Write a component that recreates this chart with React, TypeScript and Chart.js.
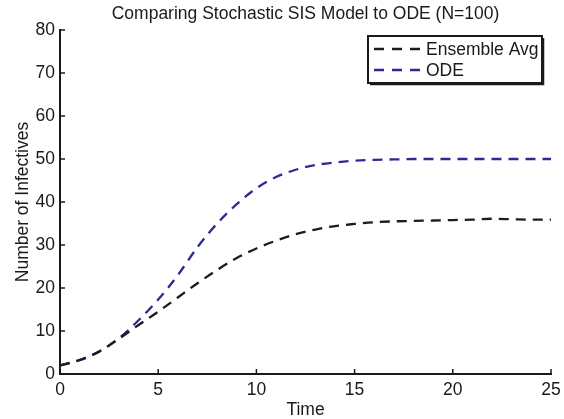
import React, { useEffect, useRef } from "react";
import { Chart, registerables } from "chart.js";

Chart.register(...registerables);

const title = "Comparing Stochastic SIS Model to ODE (N=100)";
const xLabel = "Time";
const yLabel = "Number of Infectives";
const seriesNames = ["Ensemble Avg", "ODE"];
const seriesColors = ["#1c1c1c", "#2b2b96"];

const times = [0, 1, 2, 3, 4, 5, 6, 7, 8, 9, 10, 11, 12, 13, 14, 15, 16, 17, 18, 19, 20, 21, 22, 23, 24, 25];
const ensembleAvg = [2, 3.2, 5.2, 8.2, 11.4, 14.5, 17.8, 21.1, 24.2, 27, 29.2, 31, 32.5, 33.6, 34.4, 34.9, 35.3, 35.5, 35.6, 35.7, 35.8, 35.9, 36.1, 36, 35.9, 35.9];
const odeValues = [2, 3.3, 5.3, 8.3, 12.5, 17.3, 23, 29.5, 35, 39.5, 43.2, 45.8, 47.5, 48.6, 49.2, 49.6, 49.8, 49.9, 50, 50, 50, 50, 50, 50, 50, 50];

const xTicks = [0, 5, 10, 15, 20, 25];
const yTicks = [0, 10, 20, 30, 40, 50, 60, 70, 80];

const FONT = "'Liberation Sans', Arial, Helvetica, sans-serif";
const FS = 17.5;

const decorPlugin = {
  id: "decor",
  afterDraw(chart: any) {
    const ctx = chart.ctx;
    const { left, right, bottom } = chart.chartArea;
    const xs = chart.scales.x;
    const ys = chart.scales.y;
    ctx.save();
    // inward ticks
    ctx.strokeStyle = "#1a1a1a";
    ctx.lineWidth = 1.5;
    ctx.beginPath();
    xTicks.forEach((t) => {
      const px = xs.getPixelForValue(t);
      ctx.moveTo(px, bottom);
      ctx.lineTo(px, bottom - 5);
    });
    yTicks.forEach((t) => {
      const py = ys.getPixelForValue(t);
      ctx.moveTo(left, py);
      ctx.lineTo(left + 5, py);
    });
    ctx.stroke();

    // title
    ctx.fillStyle = "#1a1a1a";
    ctx.font = `${FS}px ${FONT}`;
    ctx.textAlign = "center";
    ctx.textBaseline = "middle";
    ctx.fillText(title, (left + right) / 2, 14);

    // legend
    const bx = 368, by = 36, bw = 174, bh = 47;
    ctx.fillStyle = "#ffffff";
    ctx.fillRect(bx, by, bw, bh);
    ctx.strokeStyle = "#1a1a1a";
    ctx.lineWidth = 2;
    ctx.strokeRect(bx, by, bw, bh);
    ctx.lineWidth = 1.5;
    ctx.beginPath();
    ctx.moveTo(bx + bw + 1.5, by + 2);
    ctx.lineTo(bx + bw + 1.5, by + bh + 1.5);
    ctx.lineTo(bx + 2, by + bh + 1.5);
    ctx.stroke();
    ctx.font = `${FS}px ${FONT}`;
    ctx.textAlign = "left";
    seriesNames.forEach((name, i) => {
      const cy = by + 13 + i * 21;
      ctx.strokeStyle = seriesColors[i];
      ctx.lineWidth = 2.4;
      ctx.setLineDash([10, 8]);
      ctx.beginPath();
      ctx.moveTo(bx + 6, cy);
      ctx.lineTo(bx + 52, cy);
      ctx.stroke();
      ctx.setLineDash([]);
      ctx.fillStyle = "#1a1a1a";
      ctx.fillText(name, bx + 58, cy + 1);
    });
    ctx.restore();
  },
};

export default function App() {
  const canvasRef = useRef<HTMLCanvasElement | null>(null);

  useEffect(() => {
    document.body.style.margin = "0";
    const canvas = canvasRef.current;
    if (!canvas) return;
    const chart = new Chart(canvas, {
      type: "line",
      data: {
        datasets: [
          {
            label: seriesNames[0],
            data: times.map((t, i) => ({ x: t, y: ensembleAvg[i] })),
            borderColor: seriesColors[0],
            borderWidth: 2.3,
            borderDash: [10, 7],
            pointRadius: 0,
            cubicInterpolationMode: "monotone",
            fill: false,
          },
          {
            label: seriesNames[1],
            data: times.map((t, i) => ({ x: t, y: odeValues[i] })),
            borderColor: seriesColors[1],
            borderWidth: 2.3,
            borderDash: [10, 7],
            pointRadius: 0,
            cubicInterpolationMode: "monotone",
            fill: false,
          },
        ],
      },
      options: {
        animation: false,
        responsive: false,
        maintainAspectRatio: false,
        devicePixelRatio: 1,
        layout: { padding: { top: 30, right: 13, left: 0, bottom: 0 } },
        plugins: {
          legend: { display: false },
          title: { display: false },
          tooltip: { enabled: false },
        },
        scales: {
          x: {
            type: "linear",
            min: 0,
            max: 25,
            afterFit: (s: any) => {
              s.height = 45;
              s.paddingLeft = 0;
              s.paddingRight = 0;
            },
            afterBuildTicks: (s: any) => {
              s.ticks = xTicks.map((v) => ({ value: v }));
            },
            ticks: {
              font: { family: FONT, size: FS },
              color: "#1a1a1a",
              padding: 6,
              maxRotation: 0,
            },
            grid: { display: true, drawOnChartArea: false, drawTicks: false },
            border: { display: true, color: "#1a1a1a", width: 2 },
            title: {
              display: true,
              text: xLabel,
              font: { family: FONT, size: FS, lineHeight: 1 },
              color: "#1a1a1a",
              padding: { top: 0, bottom: 0 },
            },
          },
          y: {
            type: "linear",
            min: 0,
            max: 80,
            afterFit: (s: any) => {
              s.width = 60;
              s.paddingTop = 0;
              s.paddingBottom = 0;
            },
            afterBuildTicks: (s: any) => {
              s.ticks = yTicks.map((v) => ({ value: v }));
            },
            ticks: {
              font: { family: FONT, size: FS },
              color: "#1a1a1a",
              padding: 5,
            },
            grid: { display: true, drawOnChartArea: false, drawTicks: false },
            border: { display: true, color: "#1a1a1a", width: 2 },
            title: {
              display: true,
              text: yLabel,
              font: { family: FONT, size: FS },
              color: "#1a1a1a",
              padding: { top: 13, bottom: 0 },
            },
          },
        },
      },
      plugins: [decorPlugin],
    } as any);
    return () => chart.destroy();
  }, []);

  return (
    <div style={{ width: 564, height: 419, position: "relative" }}>
      <canvas ref={canvasRef} width={564} height={419} style={{ display: "block", width: 564, height: 419 }} />
    </div>
  );
}
